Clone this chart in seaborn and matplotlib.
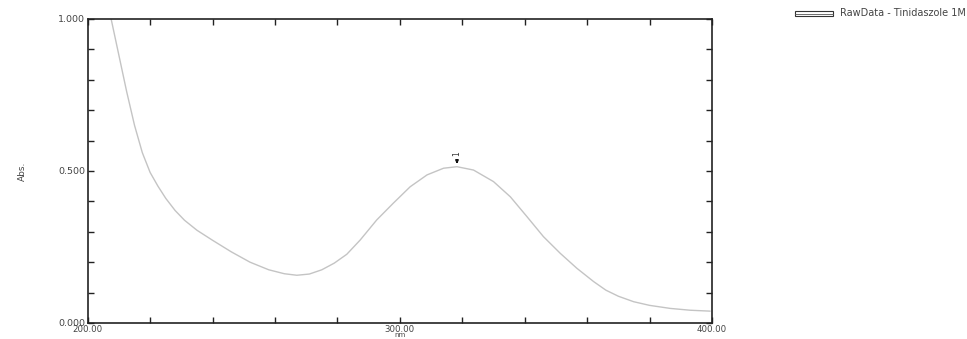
import matplotlib
matplotlib.use("Agg")
import matplotlib.pyplot as plt
import seaborn as sns
import pandas as pd
import numpy as np
from matplotlib.patches import Rectangle
from matplotlib.lines import Line2D

sns.set_theme(style="white")
plt.rcParams['font.family'] = ['DejaVu Sans']

wavelength = [207.5, 210.0, 212.5, 215.0, 217.5, 220.0, 222.5,
              225.0, 228.0, 231.0, 235.0, 240.0, 246.0, 252.0, 258.0, 263.0, 267.0,
              271.0, 275.0, 279.0, 283.0, 287.3, 292.6, 297.9, 303.3, 308.7, 314.0,
              318.3, 323.6, 330.0, 335.4, 340.7, 346.0, 351.4, 356.7, 362.1, 366.0,
              370.0, 374.9, 380.0, 386.6, 393.0, 399.4]
absorbance = [1.000, 0.880, 0.760, 0.650, 0.560, 0.495, 0.450,
              0.410, 0.370, 0.338, 0.305, 0.272, 0.234, 0.200, 0.175, 0.162, 0.157,
              0.161, 0.175, 0.197, 0.226, 0.273, 0.339, 0.394, 0.448, 0.487, 0.509,
              0.514, 0.503, 0.465, 0.415, 0.350, 0.284, 0.229, 0.180, 0.136, 0.108,
              0.088, 0.070, 0.058, 0.048, 0.042, 0.039]
peak_x = [318.3]
peak_y = [0.514]
peak_labels = ["1"]
x_ticklabels = ["200.00", "300.00", "400.00"]
y_ticklabels = ["0.000", "0.500", "1.000"]
legend_label = "RawData - Tinidaszole 1M"

df = pd.DataFrame({"nm": wavelength, "Abs.": absorbance})

fig = plt.figure(figsize=(9.67, 3.39), dpi=100)
ax = fig.add_axes([0.0907, 0.0472, 0.6456, 0.897])
sns.lineplot(data=df, x="nm", y="Abs.", ax=ax, color="#c4c4c4", linewidth=1.0)

ax.set_xlim(200, 400)
ax.set_ylim(0, 1)
xt = list(range(200, 401, 20))
ax.set_xticks(xt)
xmap = {200: x_ticklabels[0], 300: x_ticklabels[1], 400: x_ticklabels[2]}
ax.set_xticklabels([xmap.get(v, "") for v in xt])
yt = [round(i * 0.1, 1) for i in range(11)]
ax.set_yticks(yt)
ymap = {0.0: y_ticklabels[0], 0.5: y_ticklabels[1], 1.0: y_ticklabels[2]}
ax.set_yticklabels([ymap.get(v, "") for v in yt])
ax.tick_params(direction="in", top=True, right=True, bottom=True, left=True,
               length=4, width=1, color="#222222", labelsize=6.8,
               labelcolor="#444444", pad=2)
ax.tick_params(axis="x", pad=1.5, labelsize=6.2)
for s in ax.spines.values():
    s.set_color("#222222")
    s.set_linewidth(1.2)

ax.set_xlabel("nm", fontsize=5, color="#444444", labelpad=-1.5)
ax.set_ylabel("Abs.", fontsize=6.5, color="#444444", labelpad=22)

# peak marker
for px, py, lab in zip(peak_x, peak_y, peak_labels):
    ax.annotate("", xy=(px, py), xytext=(px, py + 0.03),
                arrowprops=dict(arrowstyle="-|>", color="#111111", lw=1.2, mutation_scale=4))
    ax.text(px, py + 0.035, lab, rotation=90, fontsize=5.5, color="#333333",
            ha="center", va="bottom")

# legend box
x0, y0 = 795 / 967, 1 - 16 / 339
w, h = 38 / 967, 5 / 339
fig.add_artist(Rectangle((x0, y0), w, h, transform=fig.transFigure,
                         facecolor="white", edgecolor="#333333", lw=0.8))
fig.add_artist(Line2D([x0, x0 + w], [y0 + h / 2, y0 + h / 2], transform=fig.transFigure,
                      color="#555555", lw=0.6))
fig.text(840 / 967, 1 - 13.5 / 339, legend_label, fontsize=7.0, color="#444444",
         ha="left", va="center")

fig.savefig("out.png", dpi=100)
